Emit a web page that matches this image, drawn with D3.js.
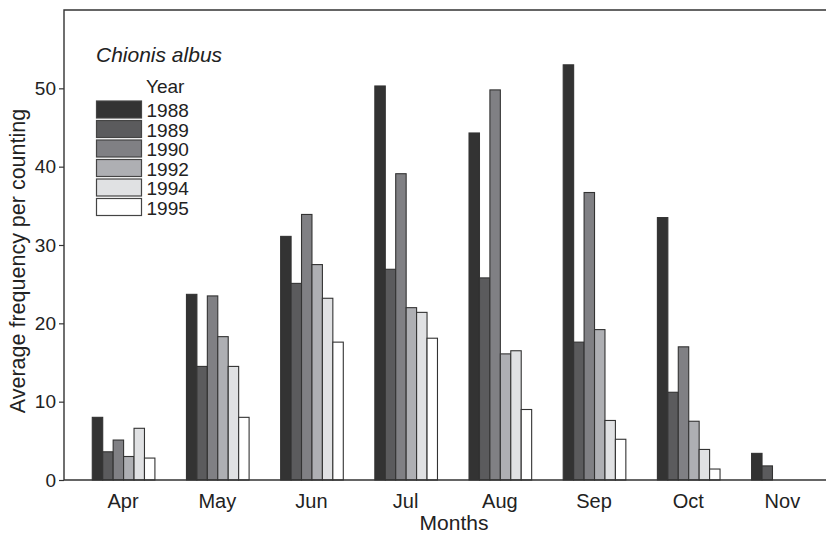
<!DOCTYPE html>
<html>
<head>
<meta charset="utf-8">
<script src="https://cdn.jsdelivr.net/npm/d3@7"></script>
<style>
  body { margin: 0; background: #fff; }
  svg { display: block; font-family: "Liberation Sans", Arial, sans-serif; }
</style>
</head>
<body>
<div id="chart"></div>
<script>
// DATA
const months = ["Apr", "May", "Jun", "Jul", "Aug", "Sep", "Oct", "Nov"];
const years = ["1988", "1989", "1990", "1992", "1994", "1995"];
const v1988 = [8.0, 23.7, 31.1, 50.3, 44.3, 53.0, 33.5, 3.4];
const v1989 = [3.6, 14.5, 25.1, 26.9, 25.8, 17.6, 11.2, 1.8];
const v1990 = [5.1, 23.5, 33.9, 39.1, 49.8, 36.7, 17.0, 0];
const v1992 = [3.0, 18.3, 27.5, 22.0, 16.1, 19.2, 7.5, 0];
const v1994 = [6.6, 14.5, 23.2, 21.4, 16.5, 7.6, 3.9, 0];
const v1995 = [2.8, 8.0, 17.6, 18.1, 9.0, 5.2, 1.4, 0];
const yTicks = [0, 10, 20, 30, 40, 50];
const yearColors = ["#333333", "#5b5b5d", "#808084", "#aeafb3", "#e0e1e3", "#ffffff"];

const series = [v1988, v1989, v1990, v1992, v1994, v1995];
const rows = [];
months.forEach((m, i) => {
  years.forEach((yr, j) => rows.push({ month: m, year: yr, value: series[j][i] }));
});

const width = 826;
const height = 533;
const marginLeft = 64, plotTop = 10, plotBottom = 480;

const svg = d3.select("#chart")
  .append("svg")
  .attr("width", width)
  .attr("height", height);

// SCALES
const x0 = d3.scaleBand().domain(months).range([76, 829.5]).paddingInner(0.335).paddingOuter(0.1675);
const x1 = d3.scaleBand().domain(years).range([0, x0.bandwidth()]);
const y = d3.scaleLinear().domain([0, 60]).range([plotBottom, plotTop]);
const color = d3.scaleOrdinal().domain(years).range(yearColors);

// BARS
svg.append("g")
  .selectAll("rect")
  .data(rows.filter((d) => d.value > 0))
  .join("rect")
  .attr("x", (d) => x0(d.month) + x1(d.year) + 0.5)
  .attr("y", (d) => y(d.value))
  .attr("width", x1.bandwidth())
  .attr("height", (d) => y(0) - y(d.value))
  .attr("fill", (d) => color(d.year))
  .attr("stroke", "#333")
  .attr("stroke-width", 1.1);

// FRAME
svg.append("path")
  .attr("d", `M${width},${plotTop}H${marginLeft}V${plotBottom}H${width}`)
  .attr("fill", "none")
  .attr("stroke", "#333")
  .attr("stroke-width", 1.4);

// Y AXIS
const yAxis = svg.append("g")
  .attr("transform", `translate(${marginLeft},0)`)
  .call(d3.axisLeft(y).tickValues(yTicks).tickSize(5).tickPadding(3));
yAxis.select(".domain").remove();
yAxis.selectAll("line").attr("stroke", "#333").attr("stroke-width", 1.2);
yAxis.selectAll("text").attr("font-size", 19).attr("fill", "#222")
  .attr("font-family", "Liberation Sans, Arial, sans-serif");

// X LABELS
svg.append("g")
  .selectAll("text")
  .data(months)
  .join("text")
  .attr("x", (d) => x0(d) + x0.bandwidth() / 2)
  .attr("y", 508)
  .attr("text-anchor", "middle")
  .attr("font-size", 20)
  .attr("fill", "#222")
  .text((d) => d);

// AXIS TITLES
svg.append("text")
  .attr("x", 454)
  .attr("y", 530)
  .attr("text-anchor", "middle")
  .attr("font-size", 21)
  .attr("fill", "#222")
  .text("Months");

svg.append("text")
  .attr("transform", `translate(25,261) rotate(-90)`)
  .attr("text-anchor", "middle")
  .attr("font-size", 21.5)
  .attr("fill", "#222")
  .text("Average frequency per counting");

// LEGEND
svg.append("text")
  .attr("x", 96)
  .attr("y", 61.5)
  .attr("font-size", 21)
  .attr("font-style", "italic")
  .attr("fill", "#222")
  .text("Chionis albus");

svg.append("text")
  .attr("x", 146)
  .attr("y", 93)
  .attr("font-size", 19)
  .attr("fill", "#222")
  .text("Year");

const legend = svg.append("g")
  .selectAll("g")
  .data(years)
  .join("g")
  .attr("transform", (d, i) => `translate(96.5,${101 + i * 19.5})`);

legend.append("rect")
  .attr("width", 45)
  .attr("height", 17)
  .attr("fill", (d) => color(d))
  .attr("stroke", "#444")
  .attr("stroke-width", 1.2);

legend.append("text")
  .attr("x", 50)
  .attr("y", 16)
  .attr("font-size", 19)
  .attr("fill", "#222")
  .text((d) => d);
</script>
</body>
</html>
